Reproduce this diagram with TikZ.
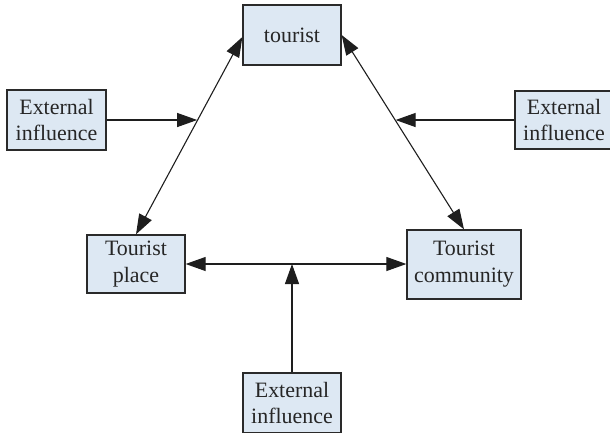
\documentclass[tikz,border=0pt]{standalone}
\usepackage{fontspec}
\setmainfont{Liberation Serif}
\usetikzlibrary{arrows.meta,calc}
\definecolor{boxfill}{HTML}{DDE8F3}
\definecolor{boxline}{HTML}{2A2A2A}
\definecolor{arr}{HTML}{1E1E1E}
\begin{document}
\begin{tikzpicture}[x=1bp,y=-1bp,
  box/.style={draw=boxline,fill=boxfill,line width=1.3bp,inner sep=0pt,align=center,
    font=\fontsize{22}{27}\selectfont,text=black!85},
  conn/.style={draw=arr,line width=1.1bp},
  tip/.style={-{Triangle[length=20bp,width=14bp]}},
  tips/.style={{Triangle[length=20bp,width=14bp]}-{Triangle[length=20bp,width=14bp]}}]
\useasboundingbox (0,0) rectangle (610,432);
\node[box,minimum width=98bp,minimum height=60bp] (tourist) at (292,35) {tourist};
\node[box,minimum width=99bp,minimum height=60bp] (eiL) at (56.5,120) {External\\influence};
\node[box,minimum width=98bp,minimum height=58bp] (eiR) at (564,120) {External\\influence};
\node[box,minimum width=98bp,minimum height=58bp] (place) at (136,264) {Tourist\\place};
\node[box,minimum width=114bp,minimum height=69bp] (comm) at (464,264.5) {Tourist\\community};
\node[box,minimum width=98bp,minimum height=60bp] (eiB) at (292,403) {External\\influence};
\coordinate (tl) at ([yshift=-2bp]tourist.west);
\coordinate (cL) at ($(tl)!0.425!(place.north)$);
\coordinate (cR) at ($(tourist.east)!0.441!(comm.north)$);
\draw[conn,tips] (tl) -- (place.north);
\draw[conn,tips] (tourist.east) -- (comm.north);
\draw[conn,tips] (place.east) -- (place.east -| comm.west);
\draw[conn,tip] (eiL.east) -- (eiL.east -| cL);
\draw[conn,tip] (eiR.west) -- (eiR.west -| cR);
\draw[conn,tip] (eiB.north) -- (eiB.north |- place.east);
\end{tikzpicture}
\end{document}
